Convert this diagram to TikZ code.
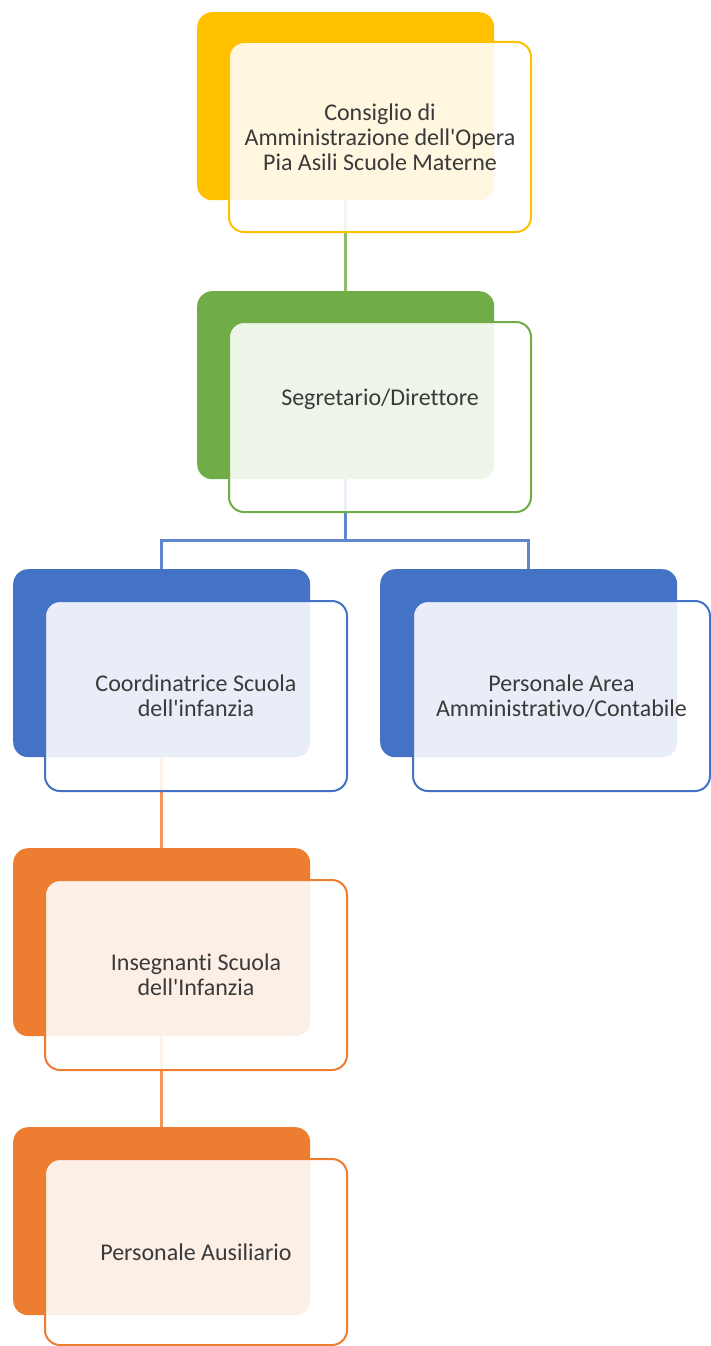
\documentclass[tikz,border=0pt]{standalone}
\usepackage{fontspec}
\setmainfont{Carlito}[Ligatures={TeXOff,NoCommon}]
\usetikzlibrary{calc}
\definecolor{cyel}{HTML}{FFC000}
\definecolor{cgrn}{HTML}{70AD47}
\definecolor{cblu}{HTML}{4472C4}
\definecolor{corg}{HTML}{ED7D31}
\definecolor{ctxt}{HTML}{3A3A3A}
\tikzset{
  backbox/.style={fill=#1, rounded corners=15pt, minimum width=297pt, minimum height=188pt, inner sep=0pt, anchor=north west},
  frontbox/.style={draw=#1, line width=2pt, fill=white, fill opacity=0.88, text opacity=1, rounded corners=15pt, minimum width=302pt, minimum height=190pt, inner sep=0pt, anchor=north west, align=center, text=ctxt, font=\fontsize{24}{25}\selectfont},
  link/.style={draw=#1, line width=2.5pt}
}
\begin{document}
\begin{tikzpicture}[x=1pt,y=-1pt]
\useasboundingbox (0,0) rectangle (711,1346);
% back boxes
\node[backbox=cyel] (yb) at (197,12) {};
\node[backbox=cgrn] (gb) at (197,291) {};
\node[backbox=cblu] (b1b) at (13,569) {};
\node[backbox=cblu] (b2b) at (380,569) {};
\node[backbox=corg] (o1b) at (13,848) {};
\node[backbox=corg] (o2b) at (13,1127) {};
% connectors
\path[link=cgrn!80] (yb.south) -- (gb.north);
\coordinate (jn) at ($(gb.south)+(0,61)$);
\path[link=cblu!85] (gb.south) -- (jn) -| (b1b.north);
\path[link=cblu!85] (jn) -| (b2b.north);
\path[link=corg!80] (b1b.south) -- (o1b.north);
\path[link=corg!80] (o1b.south) -- (o2b.north);
% front boxes
\node[frontbox=cyel] (yf) at (228,41) {Consiglio di\\Amministrazione dell'Opera\\Pia Asili Scuole Materne};
\node[frontbox=cgrn] (gf) at (228,321) {};
\node[text=ctxt, font=\fontsize{24}{25}\selectfont] (gt) at ($(gf.center)+(0,-18)$) {Segretario/Direttore};
\node[frontbox=cblu] (b1f) at (44,600) {Coordinatrice Scuola\\dell'infanzia};
\node[frontbox=cblu, minimum width=297pt] (b2f) at (412,600) {Personale Area\\Amministrativo/Contabile};
\node[frontbox=corg] (o1f) at (44,879) {Insegnanti Scuola\\dell'Infanzia};
\node[frontbox=corg, minimum height=186pt] (o2f) at (44,1158) {Personale Ausiliario};
\end{tikzpicture}
\end{document}
